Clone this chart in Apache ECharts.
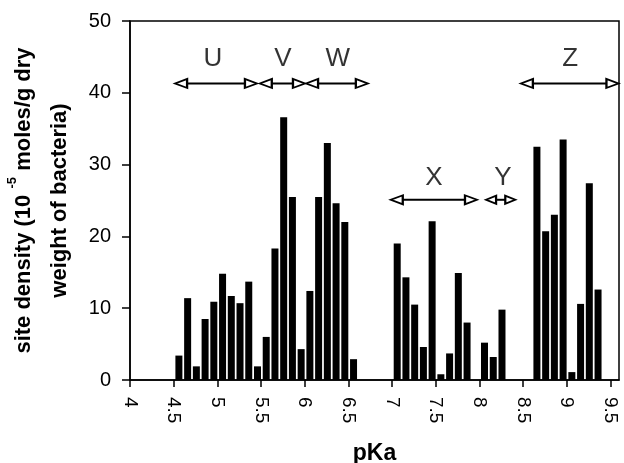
<!DOCTYPE html>
<html>
<head>
<meta charset="utf-8">
<script src="https://cdn.jsdelivr.net/npm/echarts@6/dist/echarts.min.js"></script>
<style>
  html, body { margin: 0; padding: 0; background: #fff; }
  #chart { width: 624px; height: 463px; }
</style>
</head>
<body>
<div id="chart"></div>
<script>
// bar positions (pKa) and site density values
var pKa = [4.56, 4.66, 4.76, 4.86, 4.96, 5.06, 5.16, 5.26, 5.36, 5.46,
           5.56, 5.66, 5.76, 5.86, 5.96, 6.06, 6.16, 6.26, 6.36, 6.46, 6.56,
           7.06, 7.16, 7.26, 7.36, 7.46, 7.56, 7.66, 7.76, 7.86,
           8.06, 8.16, 8.26,
           8.66, 8.76, 8.86, 8.96, 9.06, 9.16, 9.26, 9.36];
var density = [3.4, 11.4, 1.9, 8.5, 10.9, 14.8, 11.7, 10.7, 13.7, 1.9,
               6.0, 18.3, 36.6, 25.5, 4.3, 12.4, 25.5, 33.0, 24.6, 22.0, 2.9,
               19.0, 14.3, 10.5, 4.6, 22.1, 0.8, 3.7, 14.9, 8.0,
               5.2, 3.2, 9.8,
               32.5, 20.7, 23.0, 33.5, 1.1, 10.6, 27.4, 12.6];

// x tick labels
var xTicks = [4, 4.5, 5, 5.5, 6, 6.5, 7, 7.5, 8, 8.5, 9, 9.5];

// region arrows (U..Z)
var regionNames = ['U', 'V', 'W', 'X', 'Y', 'Z'];
var regionStart = [4.52, 5.49, 6.02, 6.99, 8.07, 8.48];
var regionEnd = [5.45, 6.00, 6.72, 7.97, 8.42, 9.59];
var regionArrowY = [41.3, 41.3, 41.3, 25.1, 25.1, 41.3];
var regionLabelX = [4.95, 5.75, 6.38, 7.48, 8.27, 9.04];
var regionLabelY = [44.8, 44.8, 44.8, 28.2, 28.2, 44.8];

var chart = echarts.init(document.getElementById('chart'));

var barData = pKa.map(function (x, i) { return [x, density[i]]; });

var series = [{
    type: 'bar',
    data: barData,
    barWidth: 7,
    itemStyle: { color: '#000' },
    silent: true
}];

// arrows: line + open triangle heads
var head = 0.065;
regionNames.forEach(function (name, i) {
    var small = (regionEnd[i] - regionStart[i]) < 0.4;
    series.push({
        type: 'line',
        data: [
            { value: [regionStart[i] + head, regionArrowY[i]], symbolRotate: 90 },
            { value: [regionEnd[i] - head, regionArrowY[i]], symbolRotate: -90 }
        ],
        symbol: 'triangle',
        symbolSize: small ? [8, 10] : [9, 12],
        lineStyle: { color: '#000', width: 2 },
        itemStyle: { color: '#fff', borderColor: '#000', borderWidth: 2 },
        z: 5,
        silent: true
    });
});

series.push({
    type: 'scatter',
    data: regionNames.map(function (n, i) { return { name: n, value: [regionLabelX[i], regionLabelY[i]] }; }),
    symbolSize: 0,
    label: {
        show: true,
        position: 'inside',
        formatter: '{b}',
        color: '#000',
        fontFamily: 'Liberation Sans',
        fontSize: 26
    },
    silent: true
});

var nameFont = { fontFamily: 'Liberation Sans', fontWeight: 'bold', fontSize: 22, lineHeight: 36, color: '#000' };

chart.setOption({
    animation: false,
    grid: {
        left: 130,
        right: 5,
        top: 21,
        bottom: 83,
        outerBoundsMode: 'none',
        show: true,
        borderColor: '#000',
        borderWidth: 1.5
    },
    xAxis: {
        type: 'value',
        min: 4,
        max: 9.6,
        name: 'pKa',
        nameLocation: 'middle',
        nameGap: 62,
        nameTextStyle: { fontFamily: 'Liberation Sans', fontWeight: 'bold', fontSize: 23, color: '#000' },
        axisLine: { show: true, lineStyle: { color: '#000', width: 1.5 } },
        axisTick: { show: true, length: 7, customValues: xTicks, lineStyle: { color: '#000', width: 1.5 } },
        axisLabel: {
            customValues: xTicks,
            rotate: -90,
            margin: 17,
            fontFamily: 'Liberation Sans',
            fontSize: 19,
            color: '#000'
        },
        splitLine: { show: false }
    },
    yAxis: {
        type: 'value',
        min: 0,
        max: 50,
        interval: 10,
        name: '{a|site density (10 }{s|-5}{a| moles/g dry}\n{a|weight of bacteria)}',
        nameLocation: 'middle',
        nameGap: 47,
        nameTextStyle: {
            fontFamily: 'Liberation Sans',
            fontWeight: 'bold',
            fontSize: 22,
            lineHeight: 36,
            color: '#000',
            rich: {
                a: nameFont,
                s: { fontFamily: 'Liberation Sans', fontWeight: 'bold', fontSize: 13, verticalAlign: 'top', lineHeight: 36, color: '#000' }
            }
        },
        axisLine: { show: true, lineStyle: { color: '#000', width: 1.5 } },
        axisTick: { show: true, length: 8, lineStyle: { color: '#000', width: 1.5 } },
        axisLabel: {
            margin: 19,
            fontFamily: 'Liberation Sans',
            fontSize: 20,
            color: '#000'
        },
        splitLine: { show: false }
    },
    series: series
});
</script>
</body>
</html>
